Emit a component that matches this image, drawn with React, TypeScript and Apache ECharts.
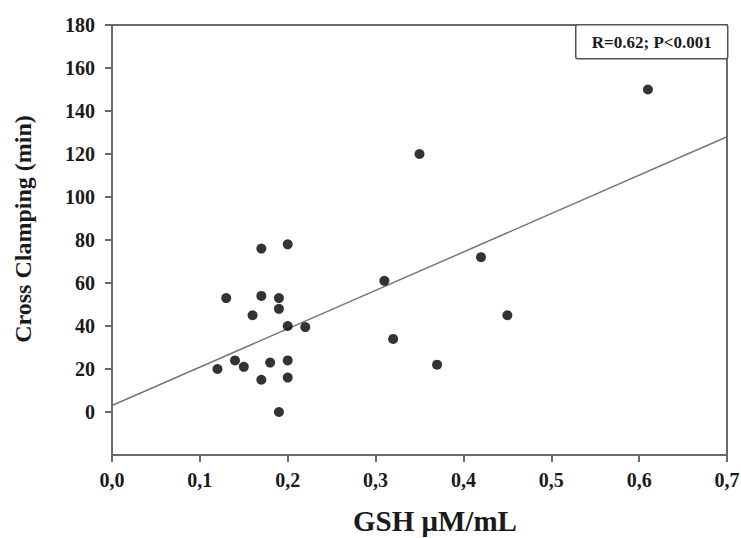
import React, { useEffect, useRef } from "react";
import * as echarts from "echarts";

const gshValues = [0.17, 0.2, 0.13, 0.17, 0.19, 0.19, 0.16, 0.2, 0.22, 0.12, 0.14, 0.15, 0.18, 0.2, 0.17, 0.2, 0.19, 0.61, 0.35, 0.42, 0.31, 0.32, 0.45, 0.37];
const clampValues = [76, 78, 53, 54, 53, 48, 45, 40, 39.5, 20, 24, 21, 23, 24, 15, 16, 0, 150, 120, 72, 61, 34, 45, 22];
const fitX = [0, 0.7];
const fitY = [3, 128];
const yTicks = [0, 20, 40, 60, 80, 100, 120, 140, 160, 180];
const statText = "R=0.62; P<0.001";
const yTitle = "Cross Clamping (min)";
const xTitle = "GSH \u03bcM/mL";

const FONT = "'Liberation Serif', 'Times New Roman', serif";

export default function App() {
  const ref = useRef<HTMLDivElement>(null);
  useEffect(() => {
    if (!ref.current) return;
    const chart = echarts.init(ref.current, undefined, { renderer: "svg" });
    const pts = gshValues.map((x, i) => [x, clampValues[i]]);
    const fit = fitX.map((x, i) => [x, fitY[i]]);
    const axisColor = "#6a6a6a";
    chart.setOption({
      animation: false,
      backgroundColor: "#fff",
      grid: {
        left: 112,
        right: 14,
        top: 25,
        bottom: 83,
        containLabel: false,
        outerBoundsMode: "none",
        show: true,
        borderColor: axisColor,
        borderWidth: 2,
        backgroundColor: "transparent",
      },
      xAxis: {
        type: "value",
        min: 0,
        max: 0.7,
        interval: 0.1,
        axisLine: { show: true, onZero: false, lineStyle: { color: axisColor, width: 2 } },
        axisTick: { show: true, length: 7, lineStyle: { color: axisColor, width: 2 } },
        splitLine: { show: false },
        axisLabel: {
          margin: 15,
          fontFamily: FONT,
          fontWeight: "bold",
          fontSize: 20,
          color: "#1a1a1a",
          formatter: (v: number) => v.toFixed(1).replace(".", ","),
        },
      },
      yAxis: {
        type: "value",
        min: -20,
        max: 180,
        interval: 20,
        axisLine: { show: true, onZero: false, lineStyle: { color: axisColor, width: 2 } },
        axisTick: { show: true, length: 7, lineStyle: { color: axisColor, width: 2 }, customValues: yTicks },
        splitLine: { show: false },
        axisLabel: {
          customValues: yTicks,
          margin: 17,
          fontFamily: FONT,
          fontWeight: "bold",
          fontSize: 20,
          color: "#1a1a1a",
        },
      },
      graphic: [
        {
          type: "text",
          x: 23,
          y: 229,
          rotation: Math.PI / 2,
          style: {
            text: yTitle,
            fontFamily: FONT,
            fontWeight: "bold",
            fontSize: 24,
            fill: "#1a1a1a",
            align: "center",
            verticalAlign: "middle",
          },
        },
        {
          type: "text",
          x: 435,
          y: 521,
          style: {
            text: xTitle,
            fontFamily: FONT,
            fontWeight: "bold",
            fontSize: 29,
            fill: "#1a1a1a",
            align: "center",
            verticalAlign: "middle",
          },
        },
        {
          type: "group",
          left: 575,
          top: 24,
          children: [
            {
              type: "rect",
              shape: { x: 0, y: 0, width: 152, height: 34, r: 2 },
              style: { fill: "#fff", stroke: "#555", lineWidth: 1.5 },
            },
            {
              type: "text",
              x: 76,
              y: 18,
              style: {
                text: statText,
                fontFamily: FONT,
                fontWeight: "bold",
                fontSize: 17,
                fill: "#1a1a1a",
                align: "center",
                verticalAlign: "middle",
              },
            },
          ],
        },
      ],
      series: [
        {
          type: "line",
          data: fit,
          symbol: "none",
          lineStyle: { color: "#777", width: 1.5 },
          z: 2,
        },
        {
          type: "scatter",
          data: pts,
          symbol: "circle",
          symbolSize: 10,
          itemStyle: { color: "#000" },
          z: 3,
        },
      ],
    });
    return () => chart.dispose();
  }, []);
  return (
    <div
      ref={ref}
      style={{ position: "absolute", left: 0, top: 0, width: 741, height: 538 }}
    />
  );
}
